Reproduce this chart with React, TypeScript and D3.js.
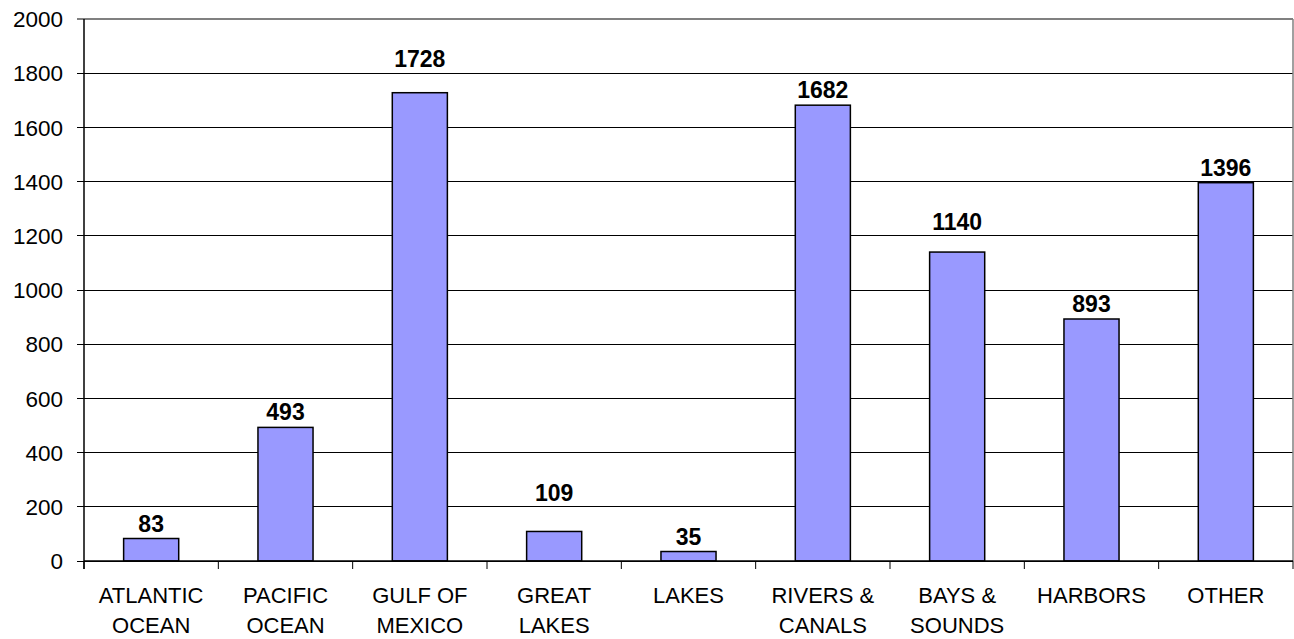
import { scaleBand, scaleLinear, range } from "d3";
import { useEffect } from "react";

const categories = [
  ["ATLANTIC", "OCEAN"],
  ["PACIFIC", "OCEAN"],
  ["GULF OF", "MEXICO"],
  ["GREAT", "LAKES"],
  ["LAKES"],
  ["RIVERS &", "CANALS"],
  ["BAYS &", "SOUNDS"],
  ["HARBORS"],
  ["OTHER"],
];
const values = [83, 493, 1728, 109, 35, 1682, 1140, 893, 1396];
const yTicks = [0, 200, 400, 600, 800, 1000, 1200, 1400, 1600, 1800, 2000];

const WIDTH = 1294;
const HEIGHT = 639;
const PLOT = { left: 84, right: 1293, top: 19, bottom: 561 } as const;
const FONT = "Arial, 'Liberation Sans', sans-serif";
const LABEL_GAP = 7;
const CAP = 16;

export default function App() {
  useEffect(() => {
    document.body.style.margin = "0";
  }, []);

  const x = scaleBand<number>()
    .domain(range(categories.length))
    .range([PLOT.left, PLOT.right])
    .paddingInner(0.59)
    .paddingOuter(0.295);
  const step = x.step();
  const y = scaleLinear().domain([0, 2000]).range([PLOT.bottom, PLOT.top]);

  // keep value labels clear of the gridlines, like the original
  const labelBaseline = (v: number) => {
    let base = y(v) - LABEL_GAP;
    for (const t of yTicks) {
      const gy = y(t);
      if (gy < base + 3 && gy > base - CAP - 3) {
        base = gy - 6;
      }
    }
    return base;
  };

  return (
    <svg width={WIDTH} height={HEIGHT} style={{ display: "block", background: "#fff" }}>
      {/* gridlines */}
      {yTicks.map((t) => (
        <line
          key={`g${t}`}
          x1={PLOT.left - 7}
          x2={PLOT.right}
          y1={y(t)}
          y2={y(t)}
          stroke={t === 2000 ? "#808080" : "#000"}
          strokeWidth={t === 2000 ? 1.5 : 1}
          shapeRendering="crispEdges"
        />
      ))}
      <line
        x1={PLOT.right}
        x2={PLOT.right}
        y1={PLOT.top}
        y2={PLOT.bottom}
        stroke="#808080"
        strokeWidth={1.5}
      />
      {/* y tick labels */}
      {yTicks.map((t) => (
        <text
          key={`t${t}`}
          x={63}
          y={y(t)}
          dy="0.36em"
          textAnchor="end"
          fontFamily={FONT}
          fontSize={22.5}
          fill="#000"
        >
          {t}
        </text>
      ))}
      {/* bars */}
      {values.map((v, i) => (
        <rect
          key={`b${i}`}
          x={x(i)}
          y={y(v)}
          width={x.bandwidth()}
          height={y(0) - y(v)}
          fill="#9999FF"
          stroke="#000"
          strokeWidth={1.5}
        />
      ))}
      {/* value labels */}
      {values.map((v, i) => (
        <text
          key={`v${i}`}
          x={(x(i) ?? 0) + x.bandwidth() / 2}
          y={labelBaseline(v)}
          textAnchor="middle"
          fontFamily={FONT}
          fontSize={23}
          fontWeight="bold"
          fill="#000"
        >
          {v}
        </text>
      ))}
      {/* axes */}
      <line x1={PLOT.left} x2={PLOT.left} y1={PLOT.top} y2={PLOT.bottom + 8} stroke="#000" strokeWidth={1.5} />
      <line x1={PLOT.left} x2={PLOT.right} y1={PLOT.bottom} y2={PLOT.bottom} stroke="#000" strokeWidth={1.5} />
      {range(categories.length + 1).map((k) => (
        <line
          key={`xt${k}`}
          x1={PLOT.left + k * step}
          x2={PLOT.left + k * step}
          y1={PLOT.bottom}
          y2={PLOT.bottom + 8}
          stroke="#000"
          strokeWidth={1}
        />
      ))}
      {/* category labels */}
      {categories.map((lines, i) => (
        <text
          key={`c${i}`}
          x={(x(i) ?? 0) + x.bandwidth() / 2}
          y={595}
          textAnchor="middle"
          fontFamily={FONT}
          fontSize={22}
          fill="#000"
        >
          {lines.map((ln, j) => (
            <tspan key={j} x={(x(i) ?? 0) + x.bandwidth() / 2} dy={j === 0 ? "0.36em" : 30}>
              {ln}
            </tspan>
          ))}
        </text>
      ))}
    </svg>
  );
}
